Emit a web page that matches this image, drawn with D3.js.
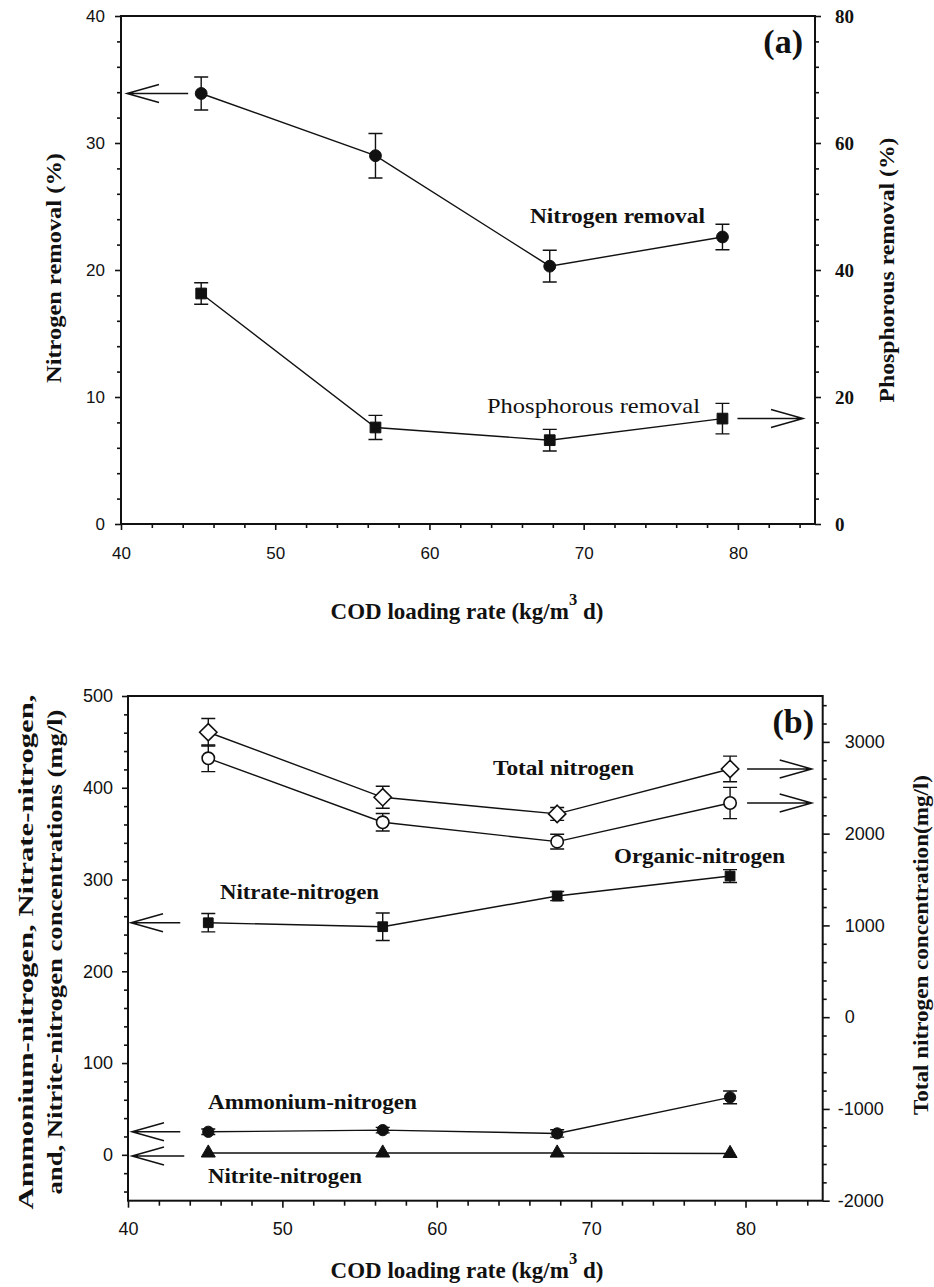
<!DOCTYPE html>
<html><head><meta charset="utf-8">
<script src="https://cdn.jsdelivr.net/npm/d3@7"></script>
<style>body{margin:0;background:#fff} svg{display:block}</style>
</head><body>
<svg id="chart" width="934" height="1287"></svg>
<script>
// ---------- DATA ----------
const codRate = [45.2, 56.5, 67.8, 79.0];           // COD loading rate (kg/m3 d)

// Panel (a)
const nitrogenRemoval    = [33.9, 29.0, 20.3, 22.6];  // % (left axis)
const nitrogenRemovalErr = [1.3, 1.75, 1.25, 1.0];
const phosphorusRemoval    = [36.3, 15.2, 13.2, 16.6]; // % (right axis)
const phosphorusRemovalErr = [1.7, 1.9, 1.7, 2.4];

// Panel (b)
const totalNitrogen      = [3105, 2396, 2215, 2705];  // mg/l (right axis)
const totalNitrogenErr   = [150, 120, 70, 140];
const organicNitrogen    = [2821, 2124, 1913, 2334];  // mg/l (right axis)
const organicNitrogenErr = [145, 95, 80, 170];
const nitrateNitrogen    = [252.9, 248.6, 282.0, 303.8]; // mg/l (left axis)
const nitrateNitrogenErr = [10, 15, 5, 7];
const ammoniumNitrogen    = [25.1, 26.9, 23.3, 62.6];  // mg/l (left axis)
const ammoniumNitrogenErr = [3, 3, 4, 7];
const nitriteNitrogen    = [2, 2, 2, 1.5];             // mg/l (left axis)
const nitriteNitrogenErr = [0, 0, 0, 0];

// Ticks
const xTicks       = [40, 50, 60, 70, 80];
const aLeftTicks   = [0, 10, 20, 30, 40];
const aRightTicks  = [0, 20, 40, 60, 80];
const bLeftTicks   = [0, 100, 200, 300, 400, 500];
const bRightTicks  = [-2000, -1000, 0, 1000, 2000, 3000];

// ---------- DRAWING ----------
const SERIF = "'Liberation Serif','Times New Roman',serif";
const SANS  = "'Liberation Sans',Arial,sans-serif";
const INK = "#111";
const plain = d => String(d);   // hyphen minus, no thousands separator
const svg = d3.select("#chart");
svg.append("rect").attr("width",934).attr("height",1287).attr("fill","#fff");

const symbolSquareDiamond = {
  draw(ctx, size) {
    const r = Math.sqrt(size / 2);
    ctx.moveTo(0, -r); ctx.lineTo(r, 0); ctx.lineTo(0, r); ctx.lineTo(-r, 0); ctx.closePath();
  }
};

function minorValues(lo, hi, step, majors) {
  return d3.range(lo, hi + step/2, step).filter(v => !majors.some(m => Math.abs(m - v) < 1e-9));
}

function styleAxis(g, family, size, weight) {
  g.attr("font-family", family).attr("font-size", size).attr("font-weight", weight || "normal");
  g.selectAll("path.domain").remove();
  g.selectAll("line").attr("stroke", INK).attr("stroke-width", 1.6);
  g.selectAll("text").attr("fill", INK);
}

function arrow(g, xTip, xTail, y) {
  const dir = xTail > xTip ? 1 : -1;
  g.append("path")
    .attr("d", `M${xTail},${y}H${xTip}M${xTip + dir*32},${y-9}L${xTip},${y}L${xTip + dir*32},${y+9}`)
    .attr("fill","none").attr("stroke",INK).attr("stroke-width",1.5);
}

function errorBars(g, x, y, vals, errs) {
  vals.forEach((v, i) => {
    if (!errs[i]) return;
    const cx = x(codRate[i]), y1 = y(v + errs[i]), y2 = y(v - errs[i]);
    g.append("path").attr("d", `M${cx},${y1}V${y2}M${cx-7},${y1}H${cx+7}M${cx-7},${y2}H${cx+7}`)
      .attr("fill","none").attr("stroke",INK).attr("stroke-width",1.4);
  });
}

function lineSeries(g, x, y, vals) {
  g.append("path").datum(vals)
    .attr("d", d3.line().x((d,i)=>x(codRate[i])).y(d=>y(d)))
    .attr("fill","none").attr("stroke",INK).attr("stroke-width",1.4);
}

function markers(g, x, y, vals, type, size, open) {
  const sym = d3.symbol().type(type).size(size);
  g.selectAll(null).data(vals).join("path")
    .attr("transform", (d,i)=>`translate(${x(codRate[i])},${y(d)})`)
    .attr("d", sym)
    .attr("fill", open ? "#fff" : INK)
    .attr("stroke", INK).attr("stroke-width", open ? 1.6 : 1);
}

function label(g, txt, px, py, opts) {
  const t = g.append("text").attr("x", px).attr("y", py)
    .attr("font-family", SERIF).attr("font-size", opts.size)
    .attr("font-weight", opts.weight || "bold").attr("fill", INK)
    .attr("text-anchor", opts.anchor || "start").text(txt);
  if (opts.len) t.attr("textLength", opts.len).attr("lengthAdjust", "spacingAndGlyphs");
  return t;
}

function vTitle(g, lines, cy, opts) {
  lines.forEach(ln => {
    const t = g.append("text")
      .attr("transform", `translate(${ln.x},${cy}) rotate(-90)`)
      .attr("text-anchor","middle").attr("dy","0.35em")
      .attr("font-family", SERIF).attr("font-size", opts.size).attr("font-weight","bold")
      .attr("fill", INK).text(ln.text);
    if (ln.len) t.attr("textLength", ln.len).attr("lengthAdjust", "spacingAndGlyphs");
  });
}

function xTitle(g, cx, baseline, size) {
  const t = g.append("text").attr("x", cx).attr("y", baseline).attr("text-anchor","middle")
    .attr("font-family", SERIF).attr("font-size", size).attr("font-weight","bold").attr("fill",INK);
  t.append("tspan").text("COD loading rate (kg/m");
  t.append("tspan").attr("dy", -14).attr("font-size", size*0.72).text("3");
  t.append("tspan").attr("dy", 14).text(" d)");
}

// ================= PANEL (a) =================
{
  const L = 121, R = 815, T = 16, B = 524;
  const g = svg.append("g");
  const x = d3.scaleLinear().domain([40, 85]).range([L, R]);
  const yL = d3.scaleLinear().domain([0, 40]).range([B, T]);
  const yR = d3.scaleLinear().domain([0, 80]).range([B, T]);

  const ax = g.append("g").attr("transform",`translate(0,${B})`)
    .call(d3.axisBottom(x).tickValues(xTicks).tickFormat(plain).tickSize(6).tickPadding(17).tickSizeOuter(0));
  styleAxis(ax, SANS, 17);
  const axm = g.append("g").attr("transform",`translate(0,${B})`)
    .call(d3.axisBottom(x).tickValues(minorValues(40, 84, 2, xTicks)).tickSize(4).tickFormat("").tickSizeOuter(0));
  styleAxis(axm, SANS, 17);

  const al = g.append("g").attr("transform",`translate(${L},0)`)
    .call(d3.axisLeft(yL).tickValues(aLeftTicks).tickFormat(plain).tickSize(6).tickPadding(10).tickSizeOuter(0));
  styleAxis(al, SANS, 17);
  const alm = g.append("g").attr("transform",`translate(${L},0)`)
    .call(d3.axisLeft(yL).tickValues(minorValues(0, 40, 2, aLeftTicks)).tickSize(4).tickFormat("").tickSizeOuter(0));
  styleAxis(alm, SANS, 17);

  const ar = g.append("g").attr("transform",`translate(${R},0)`)
    .call(d3.axisRight(yR).tickValues(aRightTicks).tickFormat(plain).tickSize(6).tickPadding(14).tickSizeOuter(0));
  styleAxis(ar, SERIF, 19, "bold");
  const arm = g.append("g").attr("transform",`translate(${R},0)`)
    .call(d3.axisRight(yR).tickValues(minorValues(0, 80, 4, aRightTicks)).tickSize(4).tickFormat("").tickSizeOuter(0));
  styleAxis(arm, SERIF, 19);

  g.append("rect").attr("x",L).attr("y",T).attr("width",R-L).attr("height",B-T)
    .attr("fill","none").attr("stroke",INK).attr("stroke-width",2);

  lineSeries(g, x, yL, nitrogenRemoval);
  lineSeries(g, x, yR, phosphorusRemoval);
  errorBars(g, x, yL, nitrogenRemoval, nitrogenRemovalErr);
  errorBars(g, x, yR, phosphorusRemoval, phosphorusRemovalErr);
  markers(g, x, yL, nitrogenRemoval, d3.symbolCircle, 110, false);
  markers(g, x, yR, phosphorusRemoval, d3.symbolSquare, 115, false);

  arrow(g, L + 6, x(codRate[0]) - 13, yL(nitrogenRemoval[0]));
  arrow(g, R - 12, x(codRate[3]) + 15, yR(phosphorusRemoval[3]));

  label(g, "Nitrogen removal", x(66.52), yL(23.70), {size: 22, len: 175});
  label(g, "Phosphorous removal", x(63.73), yL(8.76), {size: 22, weight: "normal", len: 213});
  label(g, "(a)", x(84.22), yL(37.09), {size: 34, anchor: "end"});

  vTitle(g, [{text: "Nitrogen removal  (%)", x: 53, len: 230}], 268, {size: 22});
  vTitle(g, [{text: "Phosphorous removal  (%)", x: 887, len: 265}], 270, {size: 21});
  xTitle(g, 467, 619, 23);
}

// ================= PANEL (b) =================
{
  const L = 128, R = 822.7, T = 696, B = 1200.7;
  const g = svg.append("g");
  const x = d3.scaleLinear().domain([40, 85]).range([L, R]);
  const yL = d3.scaleLinear().domain([-50, 500]).range([B, T]);
  const yR = d3.scaleLinear().domain([-2000, 3500]).range([B, T]);

  const ax = g.append("g").attr("transform",`translate(0,${B})`)
    .call(d3.axisBottom(x).tickValues(xTicks).tickFormat(plain).tickSize(7).tickPadding(15).tickSizeOuter(0));
  styleAxis(ax, SANS, 18);
  const axm = g.append("g").attr("transform",`translate(0,${B})`)
    .call(d3.axisBottom(x).tickValues(minorValues(40, 84, 2, xTicks)).tickSize(5).tickFormat("").tickSizeOuter(0));
  styleAxis(axm, SANS, 18);

  const al = g.append("g").attr("transform",`translate(${L},0)`)
    .call(d3.axisLeft(yL).tickValues(bLeftTicks).tickFormat(plain).tickSize(6).tickPadding(9).tickSizeOuter(0));
  styleAxis(al, SANS, 18);
  const alm = g.append("g").attr("transform",`translate(${L},0)`)
    .call(d3.axisLeft(yL).tickValues(minorValues(-40, 480, 20, bLeftTicks)).tickSize(4).tickFormat("").tickSizeOuter(0));
  styleAxis(alm, SANS, 18);

  const ar = g.append("g").attr("transform",`translate(${R},0)`)
    .call(d3.axisRight(yR).tickValues(bRightTicks).tickFormat(plain).tickSize(7).tickPadding(15).tickSizeOuter(0));
  styleAxis(ar, SANS, 18);
  ar.selectAll("text").filter(d => d < 0).attr("dx", -7);
  const arm = g.append("g").attr("transform",`translate(${R},0)`)
    .call(d3.axisRight(yR).tickValues(minorValues(-2000, 3400, 200, bRightTicks)).tickSize(4).tickFormat("").tickSizeOuter(0));
  styleAxis(arm, SANS, 18);

  g.append("rect").attr("x",L).attr("y",T).attr("width",R-L).attr("height",B-T)
    .attr("fill","none").attr("stroke",INK).attr("stroke-width",2);

  lineSeries(g, x, yR, totalNitrogen);
  lineSeries(g, x, yR, organicNitrogen);
  lineSeries(g, x, yL, nitrateNitrogen);
  lineSeries(g, x, yL, ammoniumNitrogen);
  lineSeries(g, x, yL, nitriteNitrogen);
  errorBars(g, x, yR, totalNitrogen, totalNitrogenErr);
  errorBars(g, x, yR, organicNitrogen, organicNitrogenErr);
  errorBars(g, x, yL, nitrateNitrogen, nitrateNitrogenErr);
  errorBars(g, x, yL, ammoniumNitrogen, ammoniumNitrogenErr);
  markers(g, x, yR, totalNitrogen, symbolSquareDiamond, 150, true);
  markers(g, x, yR, organicNitrogen, d3.symbolCircle, 120, true);
  markers(g, x, yL, nitrateNitrogen, d3.symbolSquare, 95, false);
  markers(g, x, yL, ammoniumNitrogen, d3.symbolCircle, 100, false);
  markers(g, x, yL, nitriteNitrogen, d3.symbolTriangle, 85, false);

  arrow(g, L + 3, x(codRate[0]) - 28, yL(nitrateNitrogen[0]));
  arrow(g, L + 4, x(codRate[0]) - 28, yL(ammoniumNitrogen[0]));
  arrow(g, L + 4, x(codRate[0]) - 24, yL(nitriteNitrogen[0]) + 3);
  arrow(g, R - 11, x(codRate[3]) + 17, yR(totalNitrogen[3]));
  arrow(g, R - 11, x(codRate[3]) + 17, yR(organicNitrogen[3]));

  label(g, "Total nitrogen", x(63.64), yL(413.9), {size: 20, len: 141});
  label(g, "Organic-nitrogen", x(71.48), yL(318.3), {size: 20, len: 171});
  label(g, "Nitrate-nitrogen", x(45.96), yL(278.5), {size: 20, len: 159});
  label(g, "Ammonium-nitrogen", x(45.18), yL(49.6), {size: 20, len: 209});
  label(g, "Nitrite-nitrogen", x(45.18), yL(-30.4), {size: 20, len: 154});
  label(g, "(b)", x(84.44), yL(459.7), {size: 34, anchor: "end"});

  vTitle(g, [
    {text: "Ammonium-nitrogen, Nitrate-nitrogen,", x: 26, len: 515},
    {text: "and, Nitrite-nitrogen concentrations (mg/l)", x: 55, len: 485}
  ], 952, {size: 21});
  vTitle(g, [{text: "Total nitrogen concentration(mg/l)", x: 921, len: 340}], 945, {size: 20});
  xTitle(g, 467, 1278, 23);
}
</script>
</body></html>
